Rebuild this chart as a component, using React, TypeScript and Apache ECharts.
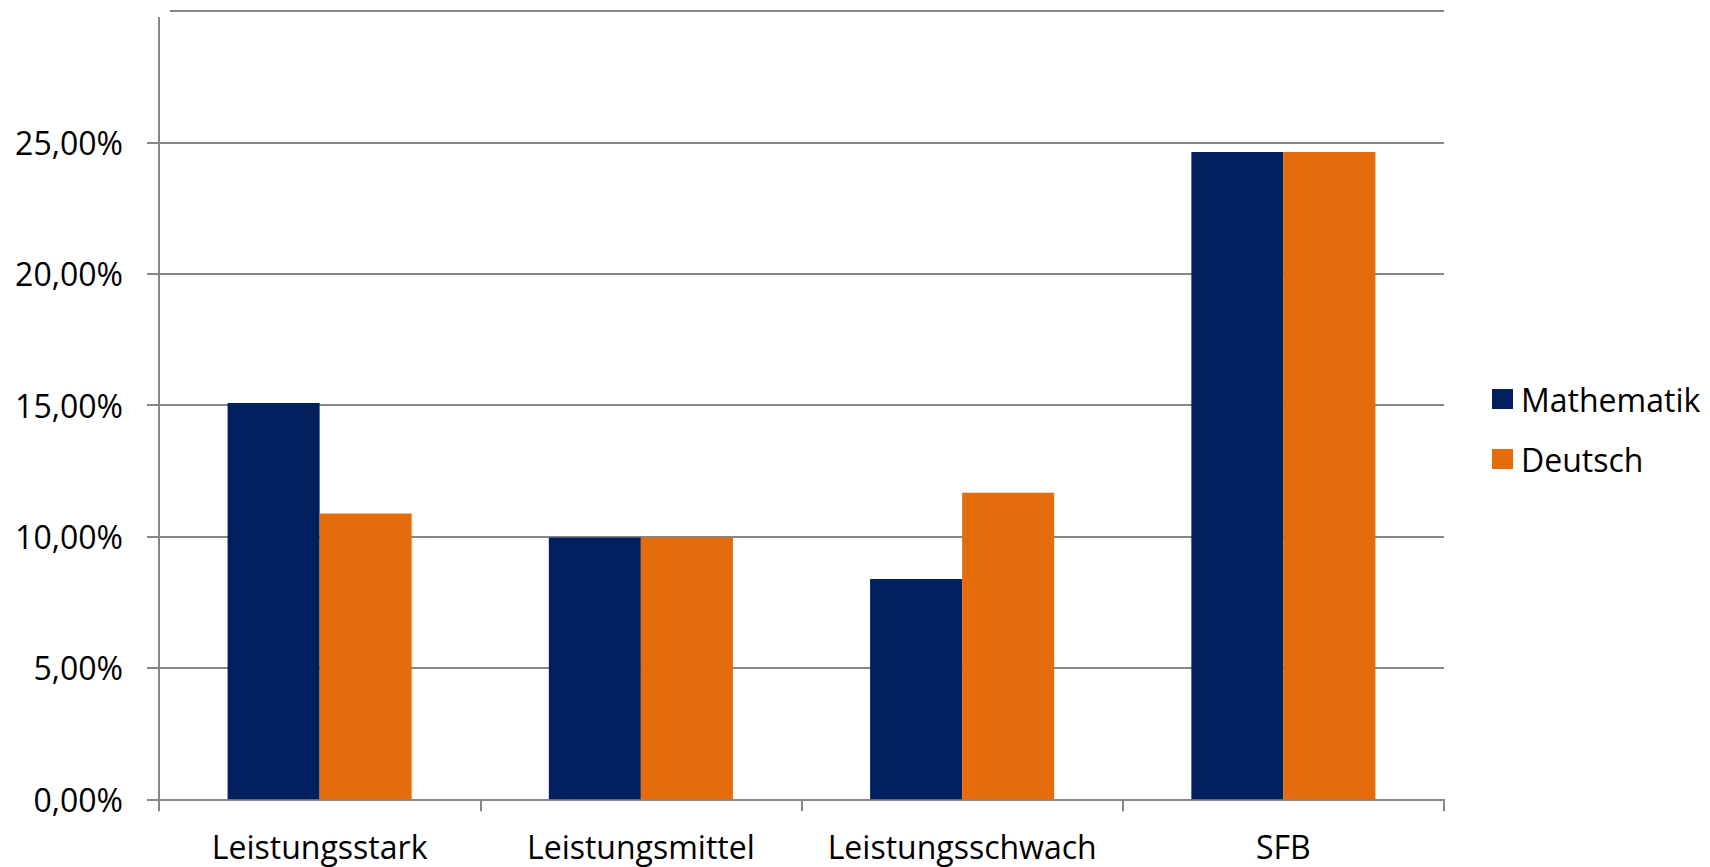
import React, { useEffect, useRef } from "react";
import * as echarts from "echarts";

const categories = ["Leistungsstark", "Leistungsmittel", "Leistungsschwach", "SFB"];
const mathematik = [15.08, 9.96, 8.38, 24.63];
const deutsch = [10.88, 9.96, 11.67, 24.63];
const seriesNames = ["Mathematik", "Deutsch"];
const yMin = 0;
const yMax = 30;
const yInterval = 5;

const FONT = "'Open Sans', sans-serif";
const GRAY = "#878787";

export default function App() {
  const ref = useRef<HTMLDivElement>(null);
  useEffect(() => {
    if (!ref.current) return;
    const chart = echarts.init(ref.current, undefined, { renderer: "svg" });
    chart.setOption({
      animation: false,
      backgroundColor: "#ffffff",
      textStyle: { fontFamily: FONT },
      grid: { left: 159, right: 266, top: 11, bottom: 67.7, containLabel: false },
      legend: {
        orient: "vertical",
        left: 1487,
        top: 378,
        itemWidth: 21,
        itemHeight: 20,
        itemGap: 28,
        icon: "rect",
        textStyle: { fontFamily: FONT, fontSize: 32, color: "#000", lineHeight: 32, padding: [0, 0, 0, 3] },
        data: seriesNames,
      },
      xAxis: {
        type: "category",
        data: categories,
        axisLine: { lineStyle: { color: GRAY, width: 2 } },
        axisTick: { show: true, length: 12, lineStyle: { color: GRAY, width: 2 } },
        axisLabel: { fontFamily: FONT, fontSize: 32, color: "#000", margin: 31, interval: 0 },
      },
      yAxis: {
        type: "value",
        min: yMin,
        max: yMax,
        interval: yInterval,
        axisLine: { show: true, lineStyle: { color: GRAY, width: 2 } },
        axisTick: { show: true, length: 12, lineStyle: { color: GRAY, width: 2 } },
        splitLine: { lineStyle: { color: GRAY, width: 2 } },
        axisLabel: {
          fontFamily: FONT,
          fontSize: 32,
          color: "#000",
          margin: 36,
          showMaxLabel: false,
          formatter: (v: number) => v.toFixed(2).replace(".", ",") + "%",
        },
      },
      series: [
        {
          name: seriesNames[0],
          type: "bar",
          data: mathematik,
          barGap: "0%",
          barCategoryGap: "42.7%",
          itemStyle: { color: "#02205E" },
        },
        {
          name: seriesNames[1],
          type: "bar",
          data: deutsch,
          barGap: "0%",
          barCategoryGap: "42.7%",
          itemStyle: { color: "#E46C0A" },
        },
      ],
      graphic: [
        {
          type: "rect",
          left: 0,
          top: 0,
          shape: { width: 170, height: 17 },
          style: { fill: "#ffffff" },
          z: 100,
        },
      ],
    });
    return () => chart.dispose();
  }, []);
  return (
    <div
      ref={ref}
      style={{ position: "absolute", left: 0, top: 0, width: 1710, height: 867 }}
    />
  );
}
